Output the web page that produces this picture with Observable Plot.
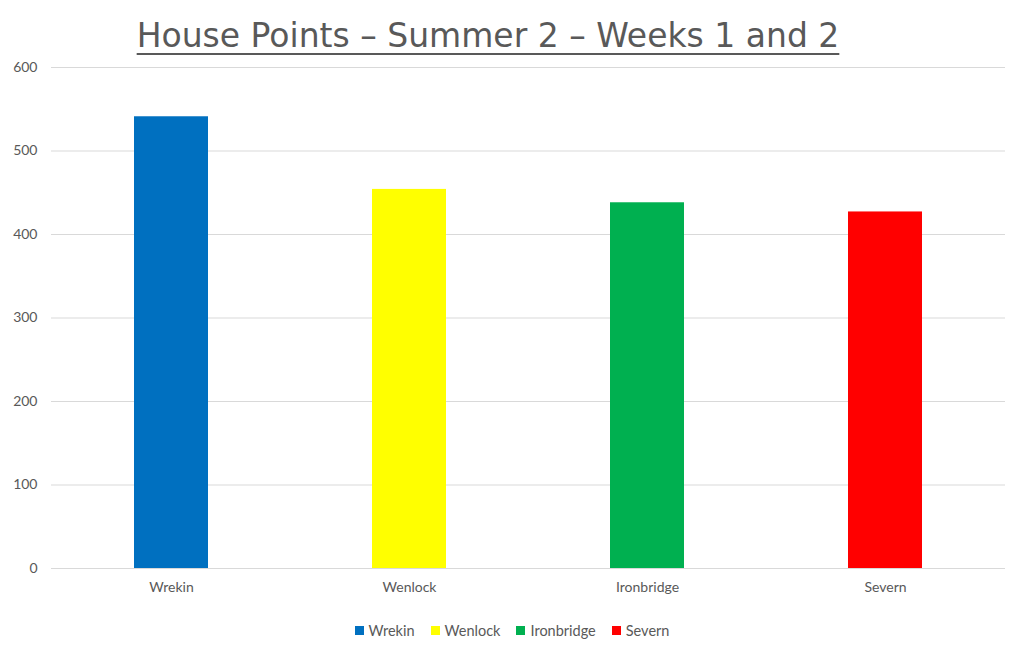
<!DOCTYPE html>
<html>
<head>
<meta charset="utf-8">
<script src="https://cdn.jsdelivr.net/npm/d3@7"></script>
<script src="https://cdn.jsdelivr.net/npm/@observablehq/plot@0.6"></script>
<style>
  html, body { margin: 0; padding: 0; background: #fff; }
  #wrap { width: 1024px; height: 652px; position: relative; overflow: hidden; }
  #title { height: 58px; text-align: center; font-family: "DejaVu Sans", sans-serif; font-size: 33px; color: #595959;
           line-height: 58px; position: relative; left: -24px; top: 7px; }
  #title span { text-decoration: underline; text-decoration-thickness: 2px; text-underline-offset: 6px; }
  #legend { display: flex; justify-content: center; gap: 16px; font-family: Lato, sans-serif; font-size: 14.5px; color: #595959; margin-top: 19px; }
  #legend .item { display: flex; align-items: center; gap: 5px; }
  #legend .sw { width: 9px; height: 9px; display: inline-block; }
</style>
</head>
<body>
<div id="wrap">
  <div id="title"><span>House Points – Summer 2 – Weeks 1 and 2</span></div>
  <div id="chart"></div>
  <div id="legend"></div>
</div>
<script>
const houses = ["Wrekin", "Wenlock", "Ironbridge", "Severn"];
const points = [541, 454, 438, 427];
const colors = ["#0070C0", "#FFFF00", "#00B050", "#FF0000"];
const yTicks = [0, 100, 200, 300, 400, 500, 600];

const data = houses.map((h, i) => ({house: h, value: points[i]}));

const chart = Plot.plot({
  width: 1024,
  height: 545,
  marginTop: 9,
  marginBottom: 35,
  marginLeft: 51,
  marginRight: 19,
  style: {fontFamily: "Lato, sans-serif", fontSize: "14px", color: "#595959", background: "#fff"},
  x: {domain: houses, paddingInner: 0.69, paddingOuter: 0.345, label: null},
  y: {domain: [0, 600], label: null},
  color: {domain: houses, range: colors},
  marks: [
    Plot.gridY(yTicks, {stroke: "#d9d9d9", strokeOpacity: 1}),
    Plot.axisY(yTicks, {tickSize: 0, tickPadding: 14, label: null, fontSize: 14}),
    Plot.axisX({tickSize: 0, tickPadding: 14, label: null, fontSize: 14}),
    Plot.barY(data, {x: "house", y: "value", fill: "house"})
  ]
});
document.getElementById("chart").appendChild(chart);

const legend = document.getElementById("legend");
houses.forEach((h, i) => {
  const item = document.createElement("div");
  item.className = "item";
  const sw = document.createElement("span");
  sw.className = "sw";
  sw.style.background = colors[i];
  const t = document.createElement("span");
  t.textContent = h;
  item.appendChild(sw);
  item.appendChild(t);
  legend.appendChild(item);
});
</script>
</body>
</html>
